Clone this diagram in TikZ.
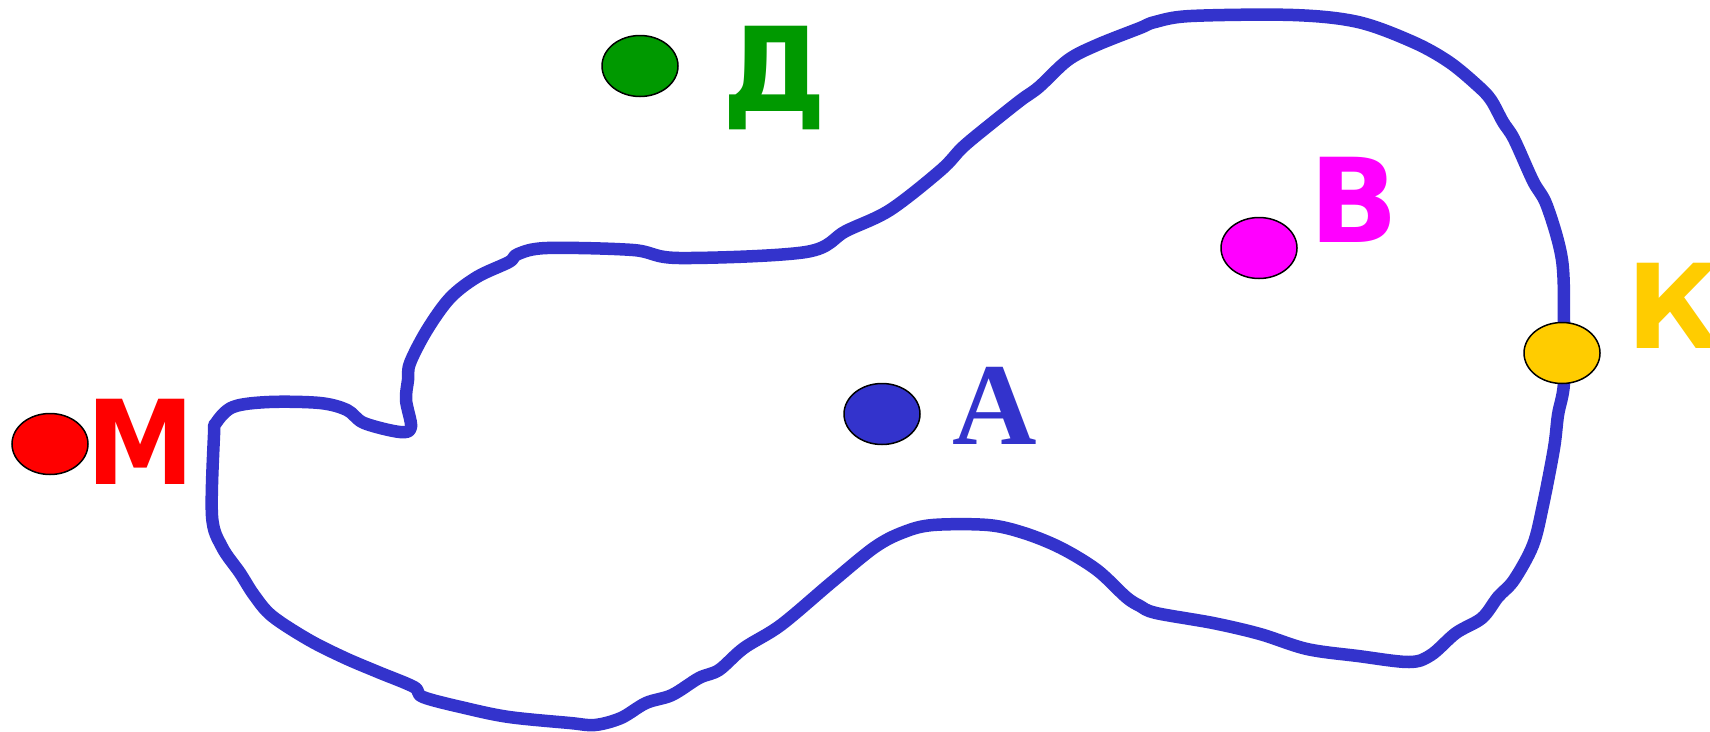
\documentclass[tikz,border=0pt]{standalone}
\usepackage{fontspec}
\setsansfont{DejaVu Sans}
\newfontfamily\timesbold{Liberation Serif}[BoldFont={Liberation Serif Bold}]
\usepackage{tikz}
\usetikzlibrary{shapes.geometric,positioning}
\definecolor{riverblue}{RGB}{51,51,204}
\definecolor{dgreen}{RGB}{0,153,0}
\definecolor{dmagenta}{RGB}{255,0,255}
\definecolor{dyellow}{RGB}{255,204,0}
\definecolor{dred}{RGB}{255,0,0}
\tikzset{
	dot/.style={
		draw=black, ellipse, line width=1.5pt,
		minimum width=76pt, minimum height=61pt,
		inner sep=0pt
	},
	letter/.style={
		inner sep=0pt, anchor=base west,
		font=\sffamily\bfseries\fontsize{117}{120}\selectfont
	},
	border/.style={draw=riverblue, line width=12.5pt, line join=round}
}

\begin{document}
\begin{tikzpicture}[x=1pt,y=-1pt]
				\clip (0,0) rectangle (1710,731);
				\fill[white] (0,0) rectangle (1710,731);
				% the closed outline
				\draw[border] plot[smooth cycle, tension=0.55] coordinates {
					(406,400) (408,380) (410,363) (427,330) (450,298) (477,277)
					(509,262) (518,254) (547,248) (633,250) (679,258) (806,252)
					(846,231) (890,210) (941,170) (963,147) (992,123) (1021,100)
					(1039,87) (1068,60) (1097,45) (1140,28) (1155,22) (1191,16)
					(1293,15) (1358,22) (1413,42) (1449,62) (1478,86) (1491,100)
					(1503,122) (1514,139) (1533,181) (1547,206) (1562,260) (1564,323)
					(1564,383) (1558,415) (1554,448) (1543,505) (1533,545) (1514,580)
					(1498,597) (1482,618) (1456,633) (1431,655) (1409,662) (1358,656)
					(1307,649) (1260,634) (1213,623) (1156,613) (1140,606) (1126,597)
					(1097,570) (1061,548) (1024,533) (988,525) (933,525) (904,532)
					(875,547) (832,582) (781,625) (744,648) (719,670) (699,678)
					(672,695) (646,703) (621,718) (595,725) (570,723) (509,717)
					(465,708) (423,697) (414,687) (378,672) (345,658) (309,640)
					(272,616) (254,595) (240,573) (222,547) (212,516) (214,435)
					(216,423) (233,407) (269,402) (320,403) (347,410) (364,423)
					(400,432) (411,427)
				};
				% points
				\node[dot, fill=dgreen]   (dotD) at (640,66)  {};
				\node[dot, fill=dmagenta] (dotV) at (1259,248) {};
				\node[dot, fill=dyellow]  (dotK) at (1562,353) {};
				\node[dot, fill=riverblue] (dotA) at (882,414) {};
				\node[dot, fill=dred]     (dotM) at (50,444)  {};
				% names
				\node[letter, text=dgreen]   (txtD) at (722,111) {Д};
				\node[letter, text=dmagenta] (txtV) at (1309,242) {В};
				\node[letter, text=dyellow]  (txtK) at (1626,348) {К};
				\node[letter, text=dred, xscale=0.93] (txtM) at (86,484) {М};
				\node[letter, text=riverblue, font=\timesbold\bfseries\fontsize{117}{120}\selectfont] (txtA) at (952,444) {А};
			\end{tikzpicture}
\end{document}
